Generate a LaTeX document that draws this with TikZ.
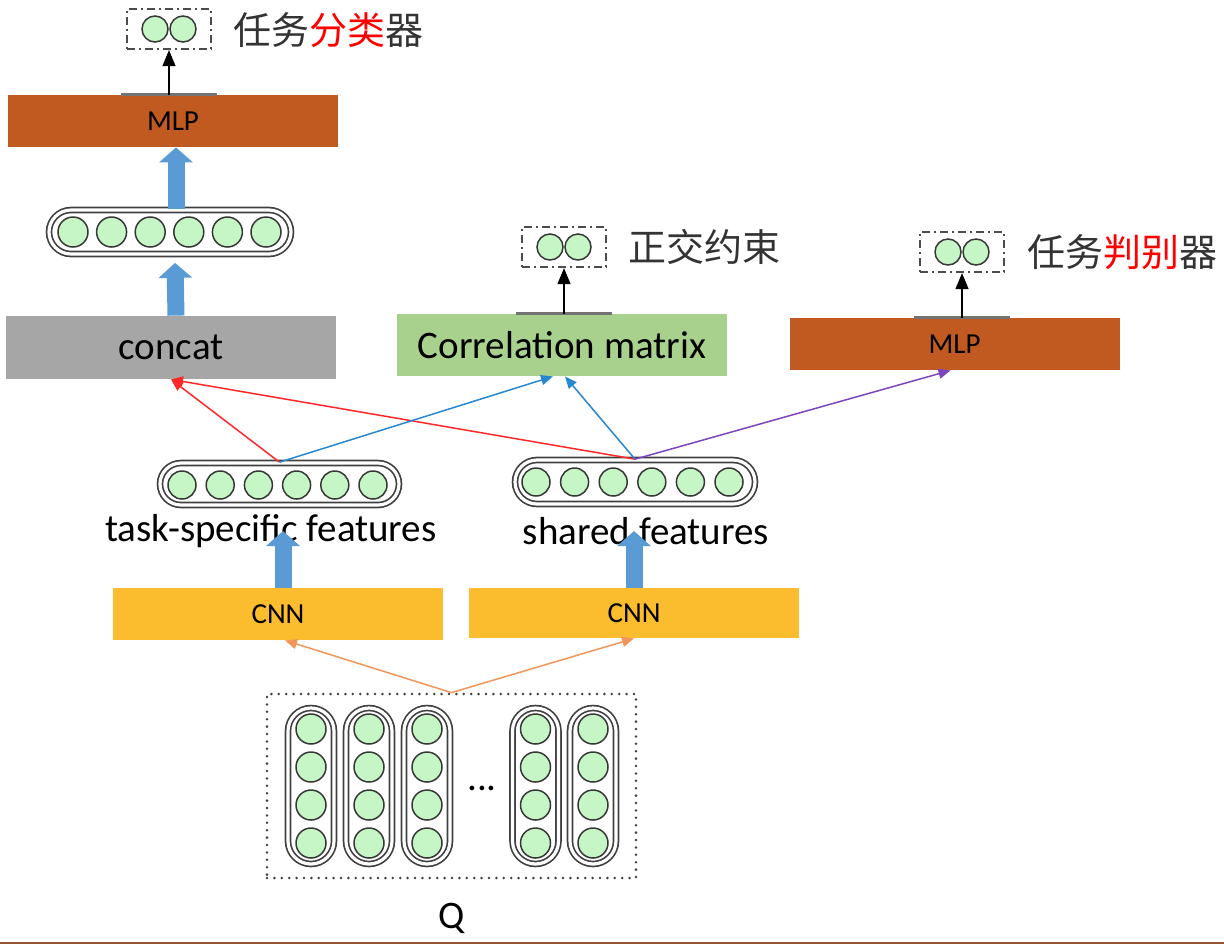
\documentclass[tikz,border=0pt]{standalone}
\usepackage{fontspec}
\setmainfont{Carlito}
\newfontfamily\cjk{Noto Sans CJK SC}
\usetikzlibrary{arrows.meta}

\definecolor{mlpcol}{RGB}{193,90,32}
\definecolor{concatcol}{RGB}{166,166,166}
\definecolor{corrcol}{RGB}{169,209,142}
\definecolor{cnncol}{RGB}{251,188,45}
\definecolor{fatblue}{RGB}{91,155,213}
\definecolor{edgeblue}{RGB}{40,135,210}
\definecolor{edgered}{RGB}{255,40,40}
\definecolor{edgepurple}{RGB}{125,70,190}
\definecolor{edgeorange}{RGB}{240,150,90}
\definecolor{neurongreen}{RGB}{198,245,198}
\definecolor{linegray}{RGB}{55,55,55}
\definecolor{bottomcol}{RGB}{150,85,50}

\begin{document}
\begin{tikzpicture}[x=0.5pt,y=-0.5pt,
  layer/.style={rectangle,inner sep=0pt,minimum width=165pt},
  neuron/.style={circle,draw=linegray,line width=0.75pt,fill=neurongreen,inner sep=0pt,minimum size=#1},
  neuron/.default=14pt,
  capsule/.style={rectangle,draw=black!75,line width=0.85pt,double=white,double distance=1.6pt,inner sep=0pt},
  outbox/.style={draw=black!70,line width=1.1pt,dash pattern=on 4pt off 2pt on 1pt off 2pt,inner sep=0pt,minimum width=42pt,minimum height=20pt},
  big/.style={font=\fontsize{19.5}{22}\selectfont},
  small/.style={font=\fontsize{14.5}{16}\selectfont},
  cjklabel/.style={anchor=west,inner sep=0pt,text=black!80,font=\cjk\fontsize{19}{22}\selectfont},
  fat/.style={line width=8.5pt,draw=fatblue,-{Triangle[length=7.5pt,width=16.5pt]}},
  link/.style={line width=0.75pt,-{Triangle[length=6pt,width=5pt]}},
  head/.style={line width=0.6pt,-{Triangle[length=8pt,width=6.5pt]}},
  stub/.style={draw=black!55,line width=1.2pt}]

  \useasboundingbox (0,0) rectangle (1224,944);

  % output heads
  \node[outbox] (out1) at (169,29) {};
  \node[outbox] (out2) at (564,247) {};
  \node[outbox] (out3) at (962,252) {};
  \foreach \o in {1,2,3} {
    \node[neuron=13pt] (o\o a) at ([xshift=-7pt]out\o.center) {};
    \node[neuron=13pt] (o\o b) at ([xshift=7pt]out\o.center) {};
  }
  \node[cjklabel] (lab1) at (233,30) {任务{\color{red}分类}器};
  \node[cjklabel] (lab2) at (628,247) {正交约束};
  \node[cjklabel] (lab3) at (1027,252) {任务{\color{red}判别}器};

  % layers
  \node[layer,fill=mlpcol,minimum height=26pt,small] (mlp1) at (173,121) {MLP};
  \node[layer,fill=concatcol,minimum height=31.5pt,big] (concat) at (171,347.5) {concat};
  \node[layer,fill=corrcol,minimum height=31pt,big] (corr) at (562,345) {Correlation matrix};
  \node[layer,fill=mlpcol,minimum height=26pt,small] (mlp2) at (954.5,344) {MLP};
  \node[layer,fill=cnncol,minimum height=26pt,small] (cnn1) at (278,614) {CNN};
  \node[layer,fill=cnncol,minimum height=25pt,small] (cnn2) at (634,613) {CNN};

  % feature vectors
  \node[capsule,minimum width=121pt,minimum height=22pt,rounded corners=11pt] (vec1) at (170,232) {};
  \foreach \i in {0,...,5} \node[neuron=15pt] (v1\i) at (73+38.6*\i,232) {};

  \node[capsule,minimum width=119.5pt,minimum height=21pt,rounded corners=10.5pt] (vecT) at (279.5,484) {};
  \foreach \i in {0,...,5} \node[neuron] (t\i) at (182+38.2*\i,485) {};

  \node[capsule,minimum width=120pt,minimum height=22pt,rounded corners=11pt] (vecS) at (635,482) {};
  \foreach \i in {0,...,5} \node[neuron] (s\i) at (536+38.6*\i,482) {};

  \node[big,inner sep=0pt] (labT) at (271,531) {task-specific features};
  \node[big,inner sep=0pt] (labS) at (646,531) {shared features};

  % input Q
  \node[draw=black!75,line width=1.4pt,line cap=round,dash pattern=on 0pt off 3.7pt,
        minimum width=184.5pt,minimum height=92pt,inner sep=0pt] (qbox) at (451.5,786) {};
  \foreach \x [count=\c] in {311,369,427,535.5,593} {
    \node[capsule,minimum width=23pt,minimum height=78pt,rounded corners=11.5pt] (col\c) at (\x,786) {};
    \foreach \y [count=\r] in {729,767,805,843}
      \node[neuron=15pt] (q\c\r) at (\x,\y) {};
  }
  \node[big,inner sep=0pt] (dots) at (482,788) {...};
  \node[big,inner sep=0pt] (qlab) at (452,918) {Q};

  % outputs
  \foreach \src/\o in {mlp1/1,corr/2,mlp2/3} {
    \coordinate (base\o) at (out\o.south |- \src.north);
    \draw[stub] ([xshift=-24pt]base\o) -- ([xshift=24pt]base\o);
    \draw[head] (base\o) -- (out\o.south);
  }

  % blue block arrows
  \draw[fat] ([xshift=2.5pt]concat.north) -- ([xshift=2.5pt,yshift=-4pt]vec1.south);
  \draw[fat] ([xshift=3pt]vec1.north) -- ([xshift=1.5pt]mlp1.south);
  \coordinate (tT) at ([xshift=2.5pt]cnn1.north |- labT.center);
  \coordinate (tS) at (cnn2.north |- labS.center);
  \draw[fat] ([xshift=2.5pt]cnn1.north) -- (tT);
  \draw[fat] (cnn2.north) -- (tS);

  % thin links
  \draw[link,edgered] (vecT.north) -- (concat.south);
  \draw[link,edgered] (vecS.north) -- (concat.south);
  \draw[link,edgeblue] (vecT.north) -- ([xshift=-4.5pt]corr.south);
  \draw[link,edgeblue] (vecS.north) -- ([xshift=1.5pt]corr.south);
  \draw[link,edgepurple] (vecS.north) -- ([xshift=-2pt]mlp2.south);
  \draw[link,edgeorange] (qbox.north) -- ([xshift=3.5pt]cnn1.south);
  \draw[link,edgeorange] (qbox.north) -- (cnn2.south);

  \draw[draw=bottomcol,line width=1pt] (0,943) -- (1224,943);

\end{tikzpicture}
\end{document}
